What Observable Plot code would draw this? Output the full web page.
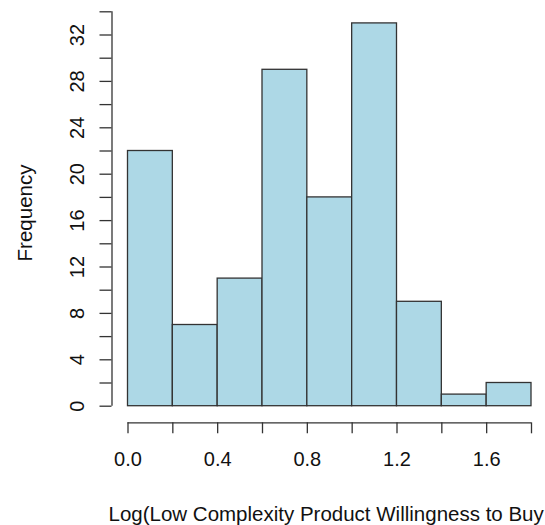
<!DOCTYPE html>
<html>
<head>
<meta charset="utf-8">
<script src="https://cdn.jsdelivr.net/npm/d3@7"></script>
<script src="https://cdn.jsdelivr.net/npm/@observablehq/plot@0.6"></script>
<style>
  html, body { margin: 0; padding: 0; background: #fff; overflow: hidden; }
  svg { font-family: "Liberation Sans", Arial, sans-serif; }
</style>
</head>
<body>
<div id="chart"></div>
<script>
// Histogram bins and counts
const binStarts = [0.0, 0.2, 0.4, 0.6, 0.8, 1.0, 1.2, 1.4, 1.6];
const binEnds   = [0.2, 0.4, 0.6, 0.8, 1.0, 1.2, 1.4, 1.6, 1.8];
const counts    = [22, 7, 11, 29, 18, 33, 9, 1, 2];

// Axis ticks and labels
const xTicks = [0.0, 0.2, 0.4, 0.6, 0.8, 1.0, 1.2, 1.4, 1.6, 1.8];
const xLabelValues = [0.0, 0.4, 0.8, 1.2, 1.6];
const xLabelTexts = ["0.0", "0.4", "0.8", "1.2", "1.6"];
const yTicks = [0, 2, 4, 6, 8, 10, 12, 14, 16, 18, 20, 22, 24, 26, 28, 30, 32, 34];
const yLabelValues = [0, 4, 8, 12, 16, 20, 24, 28, 32];

const xTitle = "Log(Low Complexity Product Willingness to Buy";
const yTitle = "Frequency";

const bins = binStarts.map((s, i) => ({x1: s, x2: binEnds[i], count: counts[i]}));

const ink = "#333";

const chart = Plot.plot({
  width: 545,
  height: 525,
  marginTop: 11.3,
  marginBottom: 119.3,
  marginLeft: 127.5,
  marginRight: 14,
  style: {background: "#fff", fontFamily: '"Liberation Sans", Arial, sans-serif', overflow: "hidden"},
  x: {type: "linear", domain: [0, 1.8], axis: null},
  y: {type: "linear", domain: [0, 34], axis: null},
  marks: [
    Plot.rectY(bins, {x1: "x1", x2: "x2", y1: 0, y2: "count", fill: "#ADD8E6", stroke: ink, strokeWidth: 1.3}),
    // y axis line and ticks
    Plot.ruleX([0], {y1: yTicks[0], y2: yTicks[yTicks.length - 1], dx: -16, stroke: ink, strokeWidth: 1.3}),
    Plot.ruleY(yTicks, {y: d => d, x1: 0, x2: 0, insetLeft: -12, insetRight: 0, dx: -16, stroke: ink, strokeWidth: 1.3}),
    Plot.text(yLabelValues, {y: d => d, x: 0, text: d => String(d), rotate: -90, dx: -50, fontSize: 20, fill: "#111"}),
    // x axis line and ticks
    Plot.ruleY([0], {x1: xTicks[0], x2: xTicks[xTicks.length - 1], dy: 16.6, stroke: ink, strokeWidth: 1.3}),
    Plot.ruleX(xTicks, {x: d => d, y1: 0, y2: 0, insetTop: 0, insetBottom: -11, dy: 16.6, stroke: ink, strokeWidth: 1.3}),
    Plot.text(xLabelValues, {x: d => d, y: 0, text: (d, i) => xLabelTexts[i], dy: 53.5, fontSize: 20, fill: "#111"}),
    // titles
    Plot.text([xTitle], {x: 0, y: 0, text: d => d, textAnchor: "start", dx: -19.5, dy: 108.4, fontSize: 20.5, fill: "#111"}),
    Plot.text([yTitle], {frameAnchor: "left", text: d => d, rotate: -90, textAnchor: "middle", dx: -102.4, dy: 4, fontSize: 20.5, fill: "#111"})
  ]
});

document.getElementById("chart").appendChild(chart);
</script>
</body>
</html>
